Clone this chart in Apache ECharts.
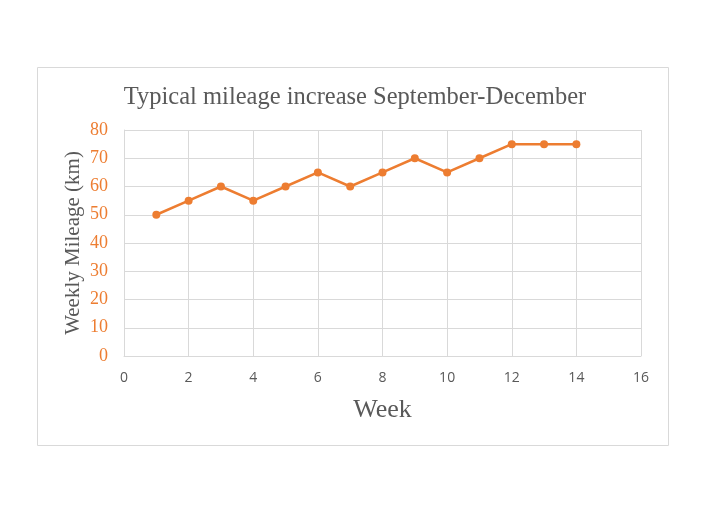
<!DOCTYPE html>
<html>
<head>
<meta charset="utf-8">
<script src="https://cdn.jsdelivr.net/npm/echarts@6/dist/echarts.min.js"></script>
<style>
  html, body { margin: 0; padding: 0; background: #fff; }
  #chart { width: 710px; height: 513px; }
</style>
</head>
<body>
<div id="chart"></div>
<script>
// weeks and weekly mileage
const weeks = [1, 2, 3, 4, 5, 6, 7, 8, 9, 10, 11, 12, 13, 14];
const mileage = [50, 55, 60, 55, 60, 65, 60, 65, 70, 65, 70, 75, 75, 75];

const orange = "#ED7D31";
const serif = "'Liberation Serif', 'DejaVu Serif', serif";

const chart = echarts.init(document.getElementById("chart"));

const option = {
  animation: false,
  title: {
    text: "Typical mileage increase September-December",
    left: "center",
    top: 80,
    textStyle: {
      fontFamily: serif,
      fontSize: 24.5,
      fontWeight: "normal",
      color: "#595959",
    },
  },
  // outer frame of the chart
  graphic: [
    {
      type: "rect",
      shape: { x: 37.5, y: 67.5, width: 631, height: 378 },
      style: { fill: null, stroke: "#d9d9d9", lineWidth: 1 },
      silent: true,
    },
  ],
  grid: { left: 124, right: 69, top: 130, bottom: 157 },
  xAxis: {
    type: "value",
    min: 0,
    max: 16,
    interval: 2,
    name: "Week",
    nameLocation: "middle",
    nameGap: 41,
    nameMoveOverlap: false,
    nameTextStyle: { fontFamily: serif, fontSize: 26, color: "#595959" },
    axisLine: { show: true, lineStyle: { color: "#d9d9d9", width: 1 } },
    axisTick: { show: false },
    axisLabel: { color: "#595959", fontSize: 14, fontFamily: "'Open Sans', sans-serif", margin: 15 },
    splitLine: { show: true, lineStyle: { color: "#d9d9d9", width: 1 } },
  },
  yAxis: {
    type: "value",
    min: 0,
    max: 80,
    interval: 10,
    name: "Weekly Mileage (km)",
    nameLocation: "middle",
    nameGap: 40,
    nameMoveOverlap: false,
    nameTextStyle: { fontFamily: serif, fontSize: 21, color: "#595959" },
    axisLine: { show: true, lineStyle: { color: "#d9d9d9", width: 1 } },
    axisTick: { show: false },
    axisLabel: { color: orange, fontSize: 18, fontFamily: serif, margin: 16 },
    splitLine: { show: true, lineStyle: { color: "#d9d9d9", width: 1 } },
  },
  series: [
    {
      type: "line",
      data: weeks.map((w, i) => [w, mileage[i]]),
      symbol: "circle",
      symbolSize: 8,
      itemStyle: { color: orange },
      lineStyle: { color: orange, width: 2.5 },
    },
  ],
};

chart.setOption(option);
</script>
</body>
</html>
